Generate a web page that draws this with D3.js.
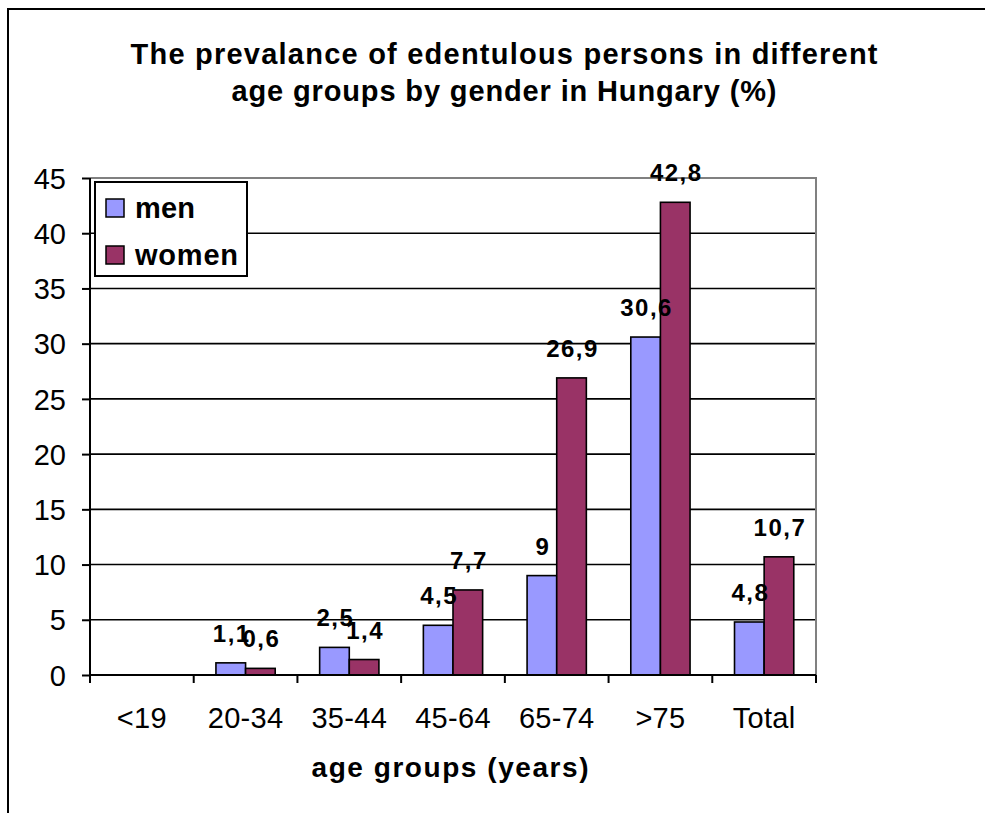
<!DOCTYPE html>
<html>
<head>
<meta charset="utf-8">
<script src="https://cdn.jsdelivr.net/npm/d3@7"></script>
<style>
  html, body { margin: 0; padding: 0; background: #fff; }
  svg { display: block; font-family: Arial, "Liberation Sans", sans-serif; }
</style>
</head>
<body>
<svg id="chart" width="985" height="813"></svg>
<script>
// Edentulous prevalence (%) by age group and gender
const categories = ["<19", "20-34", "35-44", "45-64", "65-74", ">75", "Total"];
const seriesNames = ["men", "women"];
const menValues = [null, 1.1, 2.5, 4.5, 9, 30.6, 4.8];
const womenValues = [null, 0.6, 1.4, 7.7, 26.9, 42.8, 10.7];
const yTicks = [0, 5, 10, 15, 20, 25, 30, 35, 40, 45];
const titleLines = [
  "The prevalance of edentulous persons in different",
  "age groups by gender in Hungary (%)"
];
const xAxisTitle = "age groups (years)";

const colors = { men: "#9999FF", women: "#993366" };

const svg = d3.select("#chart");
const W = 985, H = 813;
const plot = { left: 90, right: 816, top: 178, bottom: 675 };

svg.append("rect").attr("width", W).attr("height", H).attr("fill", "#fff");

// outer chart frame (runs past the right and bottom edges)
svg.append("rect")
  .attr("x", 8).attr("y", 9)
  .attr("width", 1100).attr("height", 1000)
  .attr("fill", "none").attr("stroke", "#000").attr("stroke-width", 2);

const x = d3.scaleBand().domain(categories).range([plot.left, plot.right]).padding(0);
const x1 = d3.scaleBand().domain(seriesNames).range([0, x.bandwidth()])
  .paddingInner(0).paddingOuter(0.75);
const y = d3.scaleLinear().domain([0, 45]).range([plot.bottom, plot.top]);

// gridlines
svg.append("g").selectAll("line")
  .data(yTicks.filter(t => t > 0 && t < 45))
  .join("line")
  .attr("x1", plot.left).attr("x2", plot.right)
  .attr("y1", d => y(d)).attr("y2", d => y(d))
  .attr("stroke", "#000").attr("stroke-width", 1.6);

// plot area top and right edges
svg.append("path")
  .attr("d", `M${plot.left},${y(45)}H${plot.right}V${plot.bottom}`)
  .attr("fill", "none").attr("stroke", "#808080").attr("stroke-width", 2);

// bars
const rows = categories.map((c, i) => ({ c, men: menValues[i], women: womenValues[i] }));
const groups = svg.append("g").selectAll("g")
  .data(rows).join("g")
  .attr("transform", d => `translate(${x(d.c)},0)`);

groups.selectAll("rect")
  .data(d => seriesNames.filter(s => d[s] != null).map(s => ({ s, v: d[s] })))
  .join("rect")
  .attr("x", d => x1(d.s))
  .attr("width", x1.bandwidth())
  .attr("y", d => y(d.v))
  .attr("height", d => y(0) - y(d.v))
  .attr("fill", d => colors[d.s])
  .attr("stroke", "#000").attr("stroke-width", 1.6);

// value labels
const fmt = v => String(v).replace(".", ",");
groups.selectAll("text")
  .data(d => seriesNames.filter(s => d[s] != null).map(s => ({ s, v: d[s] })))
  .join("text")
  .attr("x", d => x1(d.s) + x1.bandwidth() / 2 + 1)
  .attr("y", d => y(d.v) - 21)
  .attr("text-anchor", "middle")
  .attr("font-size", 24).attr("font-weight", "bold")
  .attr("letter-spacing", 1.5)
  .attr("fill", "#000")
  .text(d => fmt(d.v));

// y axis
const yAxis = d3.axisLeft(y).tickValues(yTicks).tickSize(8).tickPadding(16);
const gy = svg.append("g").attr("transform", `translate(${plot.left},0)`).call(yAxis);
gy.select(".domain").attr("stroke", "#000").attr("stroke-width", 2)
  .attr("d", `M0,${y(45)}V${plot.bottom + 8}`);
gy.selectAll(".tick line").attr("stroke", "#000").attr("stroke-width", 2);
gy.selectAll(".tick text")
  .attr("font-size", 29).attr("font-family", "Arial, 'Liberation Sans', sans-serif")
  .attr("fill", "#000").attr("dy", "0.35em");

// x axis: ticks sit on category boundaries
const gx = svg.append("g").attr("transform", `translate(0,${plot.bottom})`);
gx.append("line")
  .attr("x1", plot.left).attr("x2", plot.right)
  .attr("stroke", "#000").attr("stroke-width", 2);
const boundaries = categories.map(c => x(c)).concat([x(categories[categories.length - 1]) + x.bandwidth()]);
gx.selectAll("line.tk").data(boundaries).join("line")
  .attr("class", "tk")
  .attr("x1", d => d).attr("x2", d => d)
  .attr("y1", 0).attr("y2", 8)
  .attr("stroke", "#000").attr("stroke-width", 2);
gx.selectAll("text").data(categories).join("text")
  .attr("x", d => x(d) + x.bandwidth() / 2)
  .attr("y", 53)
  .attr("text-anchor", "middle")
  .attr("font-size", 29).attr("letter-spacing", 0.3)
  .attr("fill", "#000")
  .text(d => d);

// axis title
svg.append("text")
  .attr("x", 450).attr("y", 777)
  .attr("text-anchor", "middle")
  .attr("font-size", 28).attr("font-weight", "bold")
  .attr("textLength", 277).attr("lengthAdjust", "spacing")
  .text(xAxisTitle);

// chart title
svg.append("g").selectAll("text").data(titleLines).join("text")
  .attr("x", 504)
  .attr("y", (d, i) => 64 + i * 37)
  .attr("text-anchor", "middle")
  .attr("font-size", 29).attr("font-weight", "bold")
  .attr("textLength", (d, i) => i === 0 ? 747 : 545)
  .attr("lengthAdjust", "spacing")
  .text(d => d);

// legend
const legend = svg.append("g");
legend.append("rect")
  .attr("x", 95).attr("y", 182).attr("width", 152).attr("height", 94)
  .attr("fill", "#fff").attr("stroke", "#000").attr("stroke-width", 2);
const items = legend.selectAll("g").data(seriesNames).join("g")
  .attr("transform", (d, i) => `translate(0,${i * 47})`);
items.append("rect")
  .attr("x", 106).attr("y", 199).attr("width", 18).attr("height", 18)
  .attr("fill", d => colors[d]).attr("stroke", "#000").attr("stroke-width", 1.5);
items.append("text")
  .attr("x", 135).attr("y", 218)
  .attr("font-size", 29).attr("font-weight", "bold")
  .attr("textLength", d => d === "men" ? 60 : 103)
  .attr("lengthAdjust", "spacing")
  .text(d => d);
</script>
</body>
</html>
